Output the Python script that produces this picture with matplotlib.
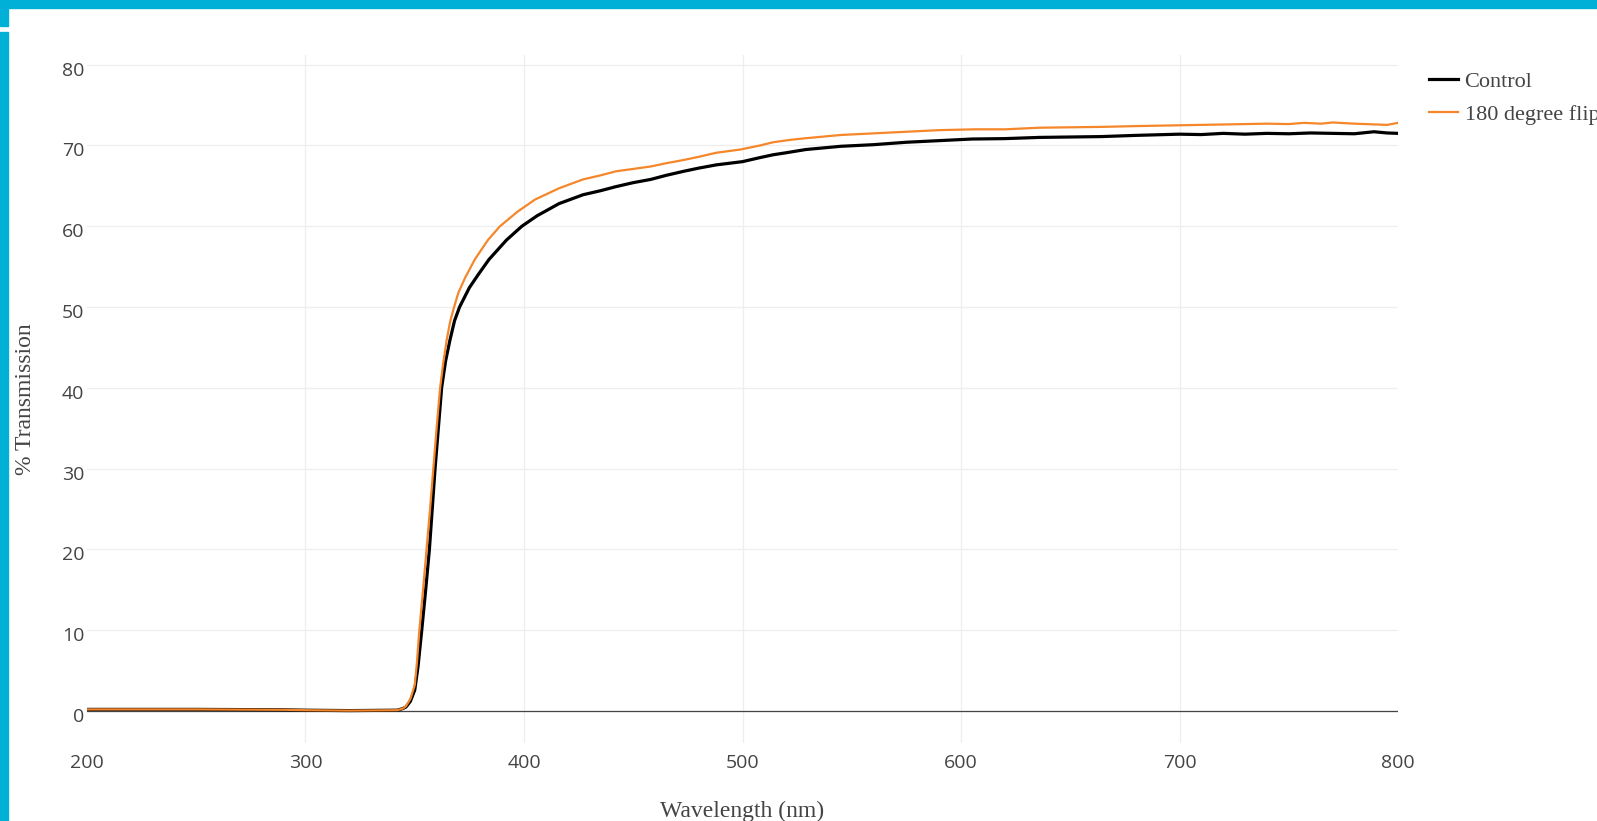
import matplotlib
matplotlib.use("Agg")
import matplotlib.pyplot as plt
from matplotlib.patches import Rectangle
from matplotlib.transforms import ScaledTranslation

# wavelength (nm) and % transmission
control_wl = [200, 250, 290, 300, 320, 342, 344.5, 346, 348, 350, 351.5, 353.2, 355,
              356.7, 358, 359.3, 360.8, 362.3, 364.1, 366.1, 368.2, 370.5, 375, 379,
              384, 392, 399, 406, 416, 427, 435, 442, 450, 458, 465, 473, 480,
              488, 500, 508, 514, 520, 529, 545, 560, 575, 590, 605, 620, 636, 650,
              664, 680, 700, 710, 720, 730, 740, 750, 760, 770, 780, 789, 795, 800]
control = [0.2, 0.2, 0.15, 0.1, 0.05, 0.1, 0.3, 0.5, 1.2, 2.6, 5.5, 10.0, 15.0,
           20.0, 25.0, 30.0, 35.0, 40.0, 43.3, 45.9, 48.3, 50.0, 52.4, 54.0,
           55.9, 58.3, 60.0, 61.3, 62.8, 63.9, 64.4, 64.9, 65.4, 65.8, 66.3,
           66.8, 67.2, 67.6, 68.0, 68.5, 68.85, 69.1, 69.5, 69.9, 70.1, 70.4, 70.6,
           70.8, 70.85, 71.0, 71.05, 71.1, 71.25, 71.4, 71.35, 71.5, 71.4, 71.5,
           71.45, 71.55, 71.5, 71.45, 71.7, 71.55, 71.5]

flip_wl = [200, 250, 290, 300, 320, 342, 344.5, 346, 348, 350, 351, 352.1, 353.8, 355.4,
           357, 358.5, 360, 361.6, 363, 364.6, 366.2, 368, 370, 373, 377.5, 383.5,
           389, 397, 405, 416, 427, 435, 442, 450, 458, 465, 473,
           480, 488, 499, 508, 514, 522, 529, 537, 545, 560, 575, 590, 606, 620,
           636, 650, 664, 680, 700, 720, 740, 750, 757, 765, 770, 780, 790, 795, 800]
flip = [0.2, 0.2, 0.15, 0.1, 0.05, 0.1, 0.3, 0.6, 1.5, 3.2, 6.0, 10.0, 15.0, 20.0,
        25.0, 30.0, 35.0, 40.0, 43.0, 45.9, 48.2, 50.0, 51.8, 53.6, 55.9, 58.3,
        60.0, 61.8, 63.3, 64.7, 65.8, 66.3, 66.8, 67.1, 67.4,
        67.8, 68.2, 68.6, 69.1, 69.5, 70.0, 70.4, 70.7, 70.9, 71.1, 71.3, 71.5,
        71.7, 71.9, 72.0, 72.0, 72.2, 72.25, 72.3, 72.4, 72.5, 72.6, 72.7, 72.65,
        72.8, 72.7, 72.85, 72.7, 72.6, 72.55, 72.8]

x_ticks = [200, 300, 400, 500, 600, 700, 800]
y_ticks = [0, 10, 20, 30, 40, 50, 60, 70, 80]

W, H = 1597, 821
fig = plt.figure(figsize=(W / 100, H / 100), dpi=100)

# cyan frame of the page
cyan = '#00b0d6'
fig.patches.append(Rectangle((0, 1 - 8 / H), 1, 8 / H, transform=fig.transFigure,
                             color=cyan, zorder=0))
fig.patches.append(Rectangle((0, 1 - 26 / H), 8 / W, 26 / H, transform=fig.transFigure,
                             color=cyan, zorder=0))
fig.patches.append(Rectangle((0, 0), 8 / W, 1 - 32 / H, transform=fig.transFigure,
                             color=cyan, zorder=0))

left, right, top, bottom = 87, 1398, 55, 743
ax = fig.add_axes([left / W, 1 - bottom / H, (right - left) / W, (bottom - top) / H])

ax.plot(control_wl, control, color='black', lw=2.3, label='Control', zorder=3)
ax.plot(flip_wl, flip, color='#f5862a', lw=1.6, label='180 degree flip', zorder=4)
ax.axhline(0, color='#444444', lw=0.9, zorder=2)

ax.set_xlim(200, 800)
ax.set_ylim(-3.96, 81.2)
ax.set_xticks(x_ticks)
ax.set_yticks(y_ticks)
ax.grid(True, color='#eeeeee', lw=0.9)
ax.set_axisbelow(True)
gl = ax.xaxis.get_gridlines()
gl[0].set_visible(False)
gl[-1].set_visible(False)
for s in ax.spines.values():
    s.set_visible(False)
ax.tick_params(length=0, labelcolor='#444444', labelsize=14)
ax.tick_params(axis='x', pad=7.8)
ax.tick_params(axis='y', pad=2)
for lab in ax.get_xticklabels() + ax.get_yticklabels():
    lab.set_family('Open Sans')
for lab in ax.get_yticklabels():
    lab.set_transform(lab.get_transform() + ScaledTranslation(0, -4 / 100, fig.dpi_scale_trans))

serif = 'Liberation Serif'
ax.set_xlabel('Wavelength (nm)', family=serif, fontsize=17, color='#444444')
ax.xaxis.set_label_coords(0.5, -(811 - bottom) / (bottom - top))
ax.xaxis.label.set_va('center')
ax.set_ylabel('% Transmission', family=serif, fontsize=17, color='#444444')
ax.yaxis.set_label_coords(-(left - 26) / (right - left), 0.5)
ax.yaxis.label.set_va('center')

leg = ax.legend(loc='upper left', bbox_to_anchor=((1429 - left) / (right - left), 1 - (71 - top) / (bottom - top)),
                frameon=False, prop={'family': serif, 'size': 16}, labelcolor='#444444',
                handlelength=1.3, handletextpad=0.3, borderaxespad=0, borderpad=0,
                labelspacing=0.56)

fig.savefig('out.png', dpi=100)
